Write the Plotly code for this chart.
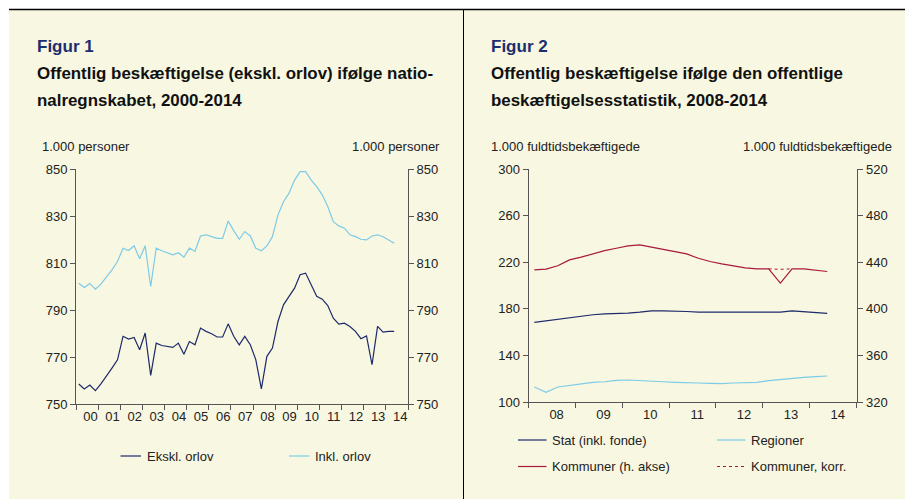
import plotly.graph_objects as go

W, H = 905, 499

# ---------------- Data: Figur 1 (quarterly, 2000K1 - 2014K2) ----------------
fig1_start_year = 2000
ekskl_orlov = [758.5, 756.4, 758.1, 755.7, 758.6, 761.8, 765.3, 768.8,
               778.8, 777.6, 778.3, 773.1, 780.2, 762.2, 775.9, 774.9,
               774.5, 774.1, 775.9, 771.2, 776.6, 775.2, 782.3, 780.9,
               779.9, 778.5, 778.5, 784.1, 778.8, 775.2, 778.8, 775.2,
               768.8, 756.4, 770.3, 773.8, 785.1, 792.2, 795.8, 799.3,
               805.0, 805.7, 800.7, 795.8, 794.6, 791.9, 786.5, 784.0,
               784.4, 783.0, 780.9, 777.8, 779.0, 766.7, 783.0, 780.6,
               780.9, 780.9]
inkl_orlov = [801.4, 799.6, 801.3, 798.9, 801.0, 804.0, 807.1, 810.6,
              816.3, 815.3, 817.3, 811.8, 817.3, 800.0, 816.3, 815.2,
              814.2, 813.5, 814.4, 812.5, 816.3, 814.9, 821.5, 822.0,
              821.2, 820.5, 820.5, 827.9, 823.8, 820.1, 823.4, 821.5,
              816.3, 815.2, 817.3, 821.2, 830.5, 836.1, 839.7, 845.3,
              848.9, 848.9, 845.3, 842.5, 839.0, 834.0, 827.6, 825.8,
              824.8, 822.0, 821.2, 820.1, 819.8, 821.5, 822.0, 821.2,
              819.8, 818.4]
fig1_years = list(range(2000, 2015))
fig1_ticktext = ["00", "01", "02", "03", "04", "05", "06", "07",
                 "08", "09", "10", "11", "12", "13", "14"]
fig1_yticks = [750, 770, 790, 810, 830, 850]

# ---------------- Data: Figur 2 (quarterly, 2008K1 - 2014K2) ----------------
fig2_start_year = 2008
stat = [168.3, 169.7, 170.6, 172.0, 173.4, 174.9, 175.7, 175.7, 176.3,
        177.1, 178.3, 178.3, 178.3, 177.7, 177.1, 177.1, 177.1, 176.6,
        176.6, 176.6, 177.1, 177.1, 178.3, 177.7, 176.9, 176.0]
regioner = [112.9, 108.3, 112.9, 114.3, 115.7, 116.9, 117.4, 118.6, 118.9,
            118.6, 118.0, 117.4, 116.9, 116.9, 116.3, 116.0, 115.7, 116.3,
            116.6, 116.9, 118.3, 119.4, 120.3, 121.1, 121.7, 122.3]
kommuner = [433.4, 434.0, 436.9, 442.0, 444.3, 447.1, 450.0, 452.0, 454.0,
            454.9, 452.9, 450.6, 448.9, 447.1, 443.4, 440.6, 438.6, 436.9,
            435.1, 434.3, 434.3, 422.0, 434.3, 434.3, 432.9, 432.0]
kommuner_korr = [None] * 20 + [434.3, 433.9, 434.3] + [None] * 3
fig2_years = list(range(2008, 2015))
fig2_ticktext = ["08", "09", "10", "11", "12", "13", "14"]
fig2_yticks_left = [100, 140, 180, 220, 260, 300]
fig2_yticks_right = [320, 360, 400, 440, 480, 520]


def qpos(start, n):
    return [start + (q + 0.5) / 4 for q in range(n)]


NAVY = "#1d2a6b"
LBLUE = "#7ccbe8"
CRIMSON = "#a8193c"
AXIS = "#555555"
TXT = "#222222"
FONT = "Liberation Sans, Arial, sans-serif"
BG = "#f8f7e1"

fig = go.Figure()

x1 = qpos(fig1_start_year, len(ekskl_orlov))
fig.add_trace(go.Scatter(x=x1, y=inkl_orlov, mode="lines", name="Inkl. orlov",
                         line=dict(color=LBLUE, width=1.2), xaxis="x", yaxis="y"))
fig.add_trace(go.Scatter(x=x1, y=ekskl_orlov, mode="lines", name="Ekskl. orlov",
                         line=dict(color=NAVY, width=1.2), xaxis="x", yaxis="y"))
fig.add_trace(go.Scatter(x=[x1[0]], y=[None], mode="lines", showlegend=False,
                         xaxis="x", yaxis="y2"))

x2 = qpos(fig2_start_year, len(stat))
fig.add_trace(go.Scatter(x=x2, y=regioner, mode="lines", name="Regioner",
                         line=dict(color=LBLUE, width=1.2), xaxis="x2", yaxis="y3"))
fig.add_trace(go.Scatter(x=x2, y=stat, mode="lines", name="Stat (inkl. fonde)",
                         line=dict(color=NAVY, width=1.2), xaxis="x2", yaxis="y3"))
fig.add_trace(go.Scatter(x=x2, y=kommuner_korr, mode="lines", name="Kommuner, korr.",
                         line=dict(color=CRIMSON, width=1, dash="dot"),
                         xaxis="x2", yaxis="y4"))
fig.add_trace(go.Scatter(x=x2, y=kommuner, mode="lines", name="Kommuner (h. akse)",
                         line=dict(color=CRIMSON, width=1.2), xaxis="x2", yaxis="y4"))


def px(x):
    return x / W


def py(y):
    return 1 - y / H


tickfont = dict(family=FONT, size=13, color=TXT)


def xaxis(dom, years, ticktext, label_shift):
    return dict(domain=dom, range=[years[0], years[-1] + 1], tickmode="array",
                tickvals=[y + 0.5 + label_shift for y in years], ticktext=ticktext,
                ticks="", showline=True, linecolor=AXIS, linewidth=1,
                showgrid=False, zeroline=False, tickfont=tickfont, automargin=False,
                minor=dict(tickmode="array", tickvals=years + [years[-1] + 1],
                           ticks="outside", ticklen=5, tickcolor=AXIS, showgrid=False),
                fixedrange=True)


def yaxis(dom, rng, tickvals, side, anchor, overlaying=None, standoff=None):
    d = dict(domain=dom, range=rng, tickmode="array", tickvals=tickvals,
             ticks="outside", ticklen=5, tickcolor=AXIS, showline=True,
             linecolor=AXIS, linewidth=1, showgrid=False, zeroline=False,
             side=side, anchor=anchor, tickfont=tickfont, fixedrange=True,
             automargin=False)
    if overlaying:
        d["overlaying"] = overlaying
    if standoff is not None:
        d["ticklabelstandoff"] = standoff
    return d


d1x = [px(76), px(408)]
d1y = [py(404), py(169)]
d2x = [px(528.5), px(856.5)]
d2y = [py(402), py(169)]

shapes = [
    dict(type="rect", xref="paper", yref="paper", x0=px(9), x1=1, y0=0, y1=py(9.5),
         fillcolor=BG, line=dict(width=0), layer="below"),
    dict(type="line", xref="paper", yref="paper", x0=px(9), x1=1, y0=py(9.5), y1=py(9.5),
         line=dict(color="#000000", width=1.5)),
    dict(type="line", xref="paper", yref="paper", x0=px(463.5), x1=px(463.5),
         y0=0, y1=py(9.5), line=dict(color="#000000", width=1)),
]

annotations = []


def text(x, y, s, size=13, bold=False, color=TXT, anchor="left"):
    annotations.append(dict(xref="paper", yref="paper", x=px(x), y=py(y),
                            text=("<b>" + s + "</b>") if bold else s,
                            showarrow=False, xanchor=anchor, yanchor="middle",
                            font=dict(family=FONT, size=size, color=color)))


def legend_item(x0, x1, y, label, color, dash="solid", width=1.2):
    shapes.append(dict(type="line", xref="paper", yref="paper", x0=px(x0), x1=px(x1),
                       y0=py(y), y1=py(y), line=dict(color=color, width=width, dash=dash)))
    text(x1 + 3.5, y, label)


# Titles
text(35, 46.5, "Figur 1", size=17, bold=True, color="#1b2e6e")
text(35, 73.5, "Offentlig beskæftigelse (ekskl. orlov) ifølge natio-", size=16.9, bold=True, color="#111111")
text(35, 100.5, "nalregnskabet, 2000-2014", size=16.9, bold=True, color="#111111")
text(40, 146, "1.000 personer")
text(442, 146, "1.000 personer", anchor="right")

text(489, 46.5, "Figur 2", size=17, bold=True, color="#1b2e6e")
text(489, 73.5, "Offentlig beskæftigelse ifølge den offentlige", size=16.9, bold=True, color="#111111")
text(489, 100.5, "beskæftigelsesstatistik, 2008-2014", size=16.9, bold=True, color="#111111")
text(489, 146, "1.000 fuldtidsbekæftigede")
text(894, 146, "1.000 fuldtidsbekæftigede", anchor="right")

# Legends
legend_item(120.5, 141, 456, "Ekskl. orlov", NAVY)
legend_item(289, 309.5, 456, "Inkl. orlov", LBLUE)
legend_item(518, 546.5, 440, "Stat (inkl. fonde)", NAVY)
legend_item(717, 745.5, 440, "Regioner", LBLUE)
legend_item(518, 546.5, 466.5, "Kommuner (h. akse)", CRIMSON)
legend_item(717, 745.5, 466.5, "Kommuner, korr.", CRIMSON, dash="dot", width=1)

fig.update_layout(
    width=W, height=H,
    margin=dict(l=0, r=0, t=0, b=0, pad=0),
    paper_bgcolor="#ffffff", plot_bgcolor="rgba(0,0,0,0)",
    showlegend=False,
    font=dict(family=FONT, size=13, color=TXT),
    xaxis=xaxis(d1x, fig1_years, fig1_ticktext, 0.15) | dict(anchor="y"),
    yaxis=yaxis(d1y, [750, 850], fig1_yticks, "left", "x"),
    yaxis2=yaxis(d1y, [750, 850], fig1_yticks, "right", "x", overlaying="y"),
    xaxis2=xaxis(d2x, fig2_years, fig2_ticktext, 0.1) | dict(anchor="y3"),
    yaxis3=yaxis(d2y, [100, 300], fig2_yticks_left, "left", "x2"),
    yaxis4=yaxis(d2y, [320, 520], fig2_yticks_right, "right", "x2", overlaying="y3", standoff=1),
    shapes=shapes,
    annotations=annotations,
)

fig.write_html("out.html", config={"responsive": False, "displayModeBar": False},
               post_script="document.body.style.margin='0';document.body.style.overflow='hidden';")
